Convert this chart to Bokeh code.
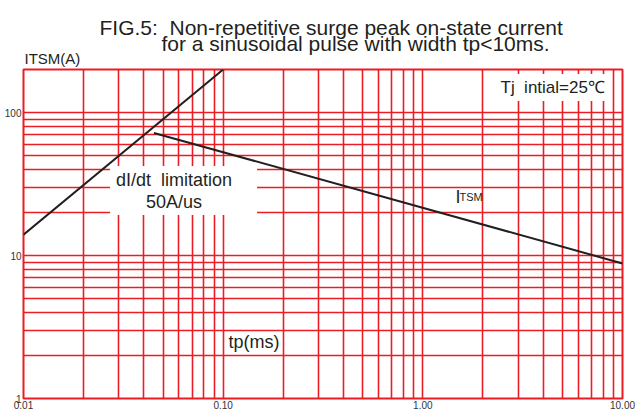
from bokeh.plotting import figure
from bokeh.models import FixedTicker, Label, Range1d, Title
from bokeh.embed import file_html
from bokeh.resources import INLINE

# ---- data ----
limit_tp = [0.01, 0.1]          # ms, dI/dt limitation line
limit_itsm = [14, 200]          # A
itsm_tp = [0.045, 10]           # ms, ITSM line
itsm_val = [72, 8.8]            # A

x_major = [0.01, 0.1, 1, 10]
x_labels = ["0.01", "0.10", "1.00", "10.00"]
y_major = [1, 10, 100]
y_labels = ["1", "10", "100"]
minor_mult = [2, 3, 4, 5, 6, 7, 8, 9]
x_minor = [m * d for d in [0.01, 0.1, 1] for m in minor_mult]
y_minor = [m * d for d in [1, 10] for m in minor_mult]

RED = "#ec1c24"
INK = "#231f20"
FONT = "Liberation Sans"
SP2 = "\u00a0 "   # visible double space

p = figure(width=641, height=411, x_axis_type="log", y_axis_type="log",
           x_range=Range1d(0.01, 10), y_range=Range1d(1, 200),
           output_backend="svg", toolbar_location=None, title=None,
           min_border_left=23, min_border_right=19, min_border_top=69,
           min_border_bottom=13)
p.background_fill_color = "white"
p.border_fill_color = "white"
p.outline_line_color = RED
p.outline_line_width = 2
p.outline_line_alpha = 1

xt = FixedTicker(ticks=x_major, minor_ticks=x_minor)
yt = FixedTicker(ticks=y_major, minor_ticks=y_minor)
p.xaxis.ticker = xt
p.yaxis.ticker = yt
p.xgrid.ticker = xt
p.ygrid.ticker = yt
p.xaxis.major_label_overrides = dict(zip(x_major, x_labels))
p.yaxis.major_label_overrides = dict(zip(y_major, y_labels))

for ax in (p.xaxis, p.yaxis):
    ax.axis_line_color = None
    ax.major_tick_line_color = None
    ax.minor_tick_line_color = None
    ax.major_tick_out = 0
    ax.minor_tick_out = 0
    ax.major_label_standoff = 2
    ax.major_label_text_font = FONT
    ax.major_label_text_font_size = "10px"
    ax.major_label_text_color = "#333333"

for g in (p.xgrid, p.ygrid):
    g.grid_line_color = RED
    g.grid_line_width = 1.6
    g.grid_line_alpha = 1
    g.minor_grid_line_color = RED
    g.minor_grid_line_width = 1.6
    g.minor_grid_line_alpha = 1

p.line(limit_tp, limit_itsm, line_color=INK, line_width=2)
p.line(itsm_tp, itsm_val, line_color=INK, line_width=2)

# texts above the frame (later-added titles sit farther from the plot)
p.add_layout(Title(text="ITSM(A)", align="left", offset=1, standoff=5,
                   text_font=FONT, text_font_size="15px",
                   text_font_style="normal", text_color=INK), "above")
p.add_layout(Title(text="for a sinusoidal pulse with width tp<10ms.", align="left",
                   offset=138, standoff=-18, text_font=FONT, text_font_size="21px",
                   text_font_style="normal", text_color=INK), "above")
p.add_layout(Title(text="FIG.5:" + SP2 + "Non-repetitive surge peak on-state current",
                   align="left", offset=76, standoff=0, text_font=FONT,
                   text_font_size="21px", text_font_style="normal",
                   text_color=INK), "above")


def lab(x, y, text, size, **kw):
    opts = dict(x=x, y=y, x_units="screen", y_units="screen", text=text,
                text_font=FONT, text_font_size=size, text_color=INK,
                text_baseline="alphabetic")
    opts.update(kw)
    p.add_layout(Label(**opts))


# annotations inside the chart
lab(473, 311, "Tj" + SP2 + "intial=25℃", "17px", background_fill_color="white", padding=4)
lab(160, 208, "dI/dt" + SP2 + "limitation\n50A/us", "18px", text_align="center",
    text_baseline="middle", text_line_height=1.1,
    background_fill_color="white",
    padding=dict(left=6, right=25, top=4, bottom=3))
lab(432, 202, "I", "18px")
lab(436, 202, "TSM", "11px")
lab(205, 57, "tp(ms)", "18px")

open("out.html", "w").write(file_html(p, INLINE))
